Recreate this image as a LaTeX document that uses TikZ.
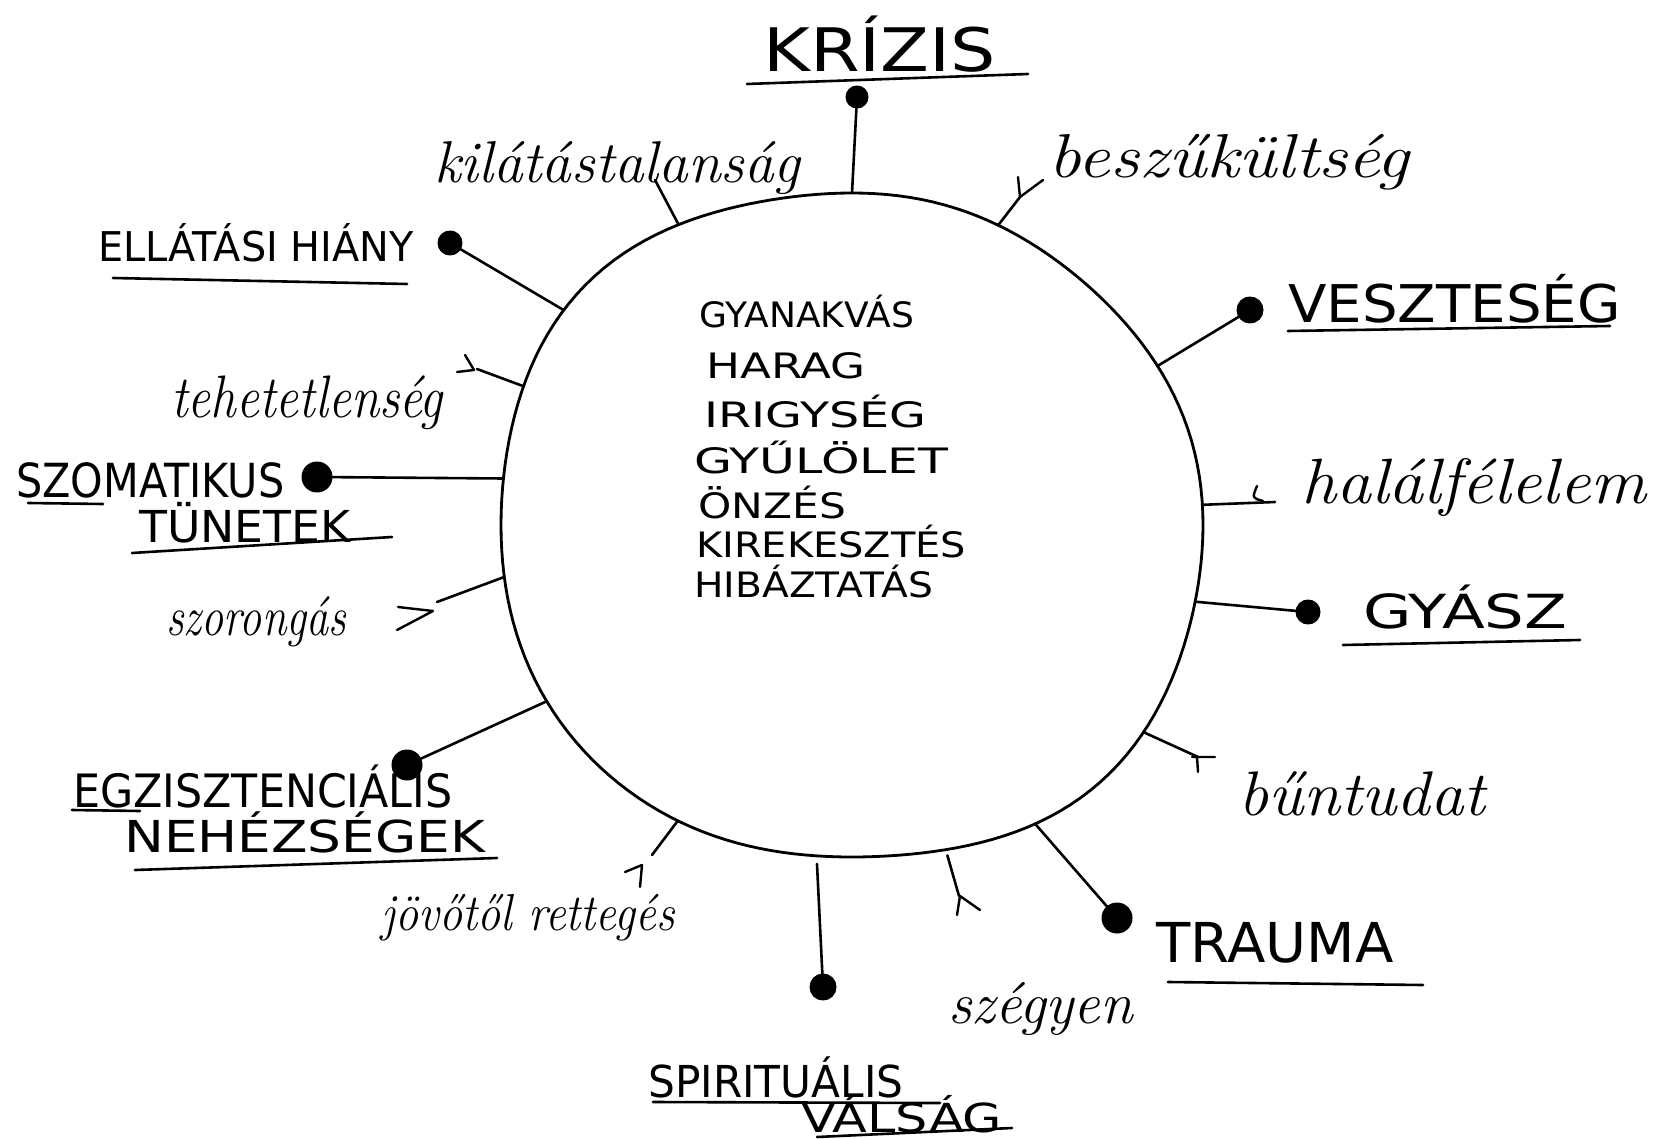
\documentclass[tikz,border=0pt]{standalone}
\usepackage{fontspec}
\newfontfamily\capf{DejaVu Sans}
\newcommand{\hw}[3]{\fontsize{#1}{#1}\selectfont\scalebox{#2}[1]{#3}}
\begin{document}
\begin{tikzpicture}[x=1pt,y=-1pt, line width=2.6pt, line cap=round, line join=round,
  declare function={R(\t)=100*11.6532/sqrt((3.32*cos(\t))*(3.32*cos(\t))+(3.51*sin(\t))*(3.51*sin(\t)))+sin(2*\t)*sin(2*\t)*(9+7.5*cos(2*\t-90)+6.5*cos(\t-135));},
  uline/.style={line width=2.6pt},
  caps/.style={anchor=base west, inner sep=0pt, font=\capf},
  cursive/.style={anchor=base west, inner sep=0pt, font=\itshape},
  blob/.style={circle, fill=black, draw=black, line width=1pt, inner sep=0pt, minimum size=#1},
  fletch/.style={line width=2.4pt}]
\useasboundingbox (0,0) rectangle (1675,1139);
\fill[white] (0,0) rectangle (1675,1139);

% the circle
\draw[line width=2.8pt] plot[domain=0:360, samples=181, variable=\t] ({852+R(\t)*cos(\t)},{525+R(\t)*sin(\t)}) -- cycle;

% centre words
\node[caps] (w1) at (698,328) {\hw{35}{1.03}{GYANAKVÁS}};
\node[caps] (w2) at (705,378) {\hw{35}{1.29}{HARAG}};
\node[caps] (w3) at (703,427) {\hw{35}{1.36}{IRIGYSÉG}};
\node[caps] (w4) at (693,473) {\hw{35}{1.40}{GYŰLÖLET}};
\node[caps] (w5) at (697,518) {\hw{35}{1.21}{ÖNZÉS}};
\node[caps] (w6) at (695,557) {\hw{35}{1.14}{KIREKESZTÉS}};
\node[caps] (w7) at (693,597) {\hw{35}{1.12}{HIBÁZTATÁS}};

% capital labels
\node[caps] (tK) at (762,72) {\hw{60}{1.19}{KRÍZIS}};
\draw[uline] (747,84) -- (1028,74);
\node[caps] (tEl) at (97,262) {\hw{41}{0.97}{ELLÁTÁSI HIÁNY}};
\draw[uline] (113,278) -- (407,284);
\node[caps] (tV) at (1287,323) {\hw{52}{1.08}{VESZTESÉG}};
\draw[uline] (1288,331) -- (1610,326);
\node[caps] (tSo) at (15,497) {\hw{47}{0.88}{SZOMATIKUS}};
\draw[uline] (28,503) -- (103,504);
\node[caps] (tSo2) at (138,542) {\hw{44}{1.04}{TÜNETEK}};
\draw[uline] (132,553) -- (392,537);
\node[caps] (tG) at (1362,628) {\hw{47}{1.33}{GYÁSZ}};
\draw[uline] (1343,645) -- (1580,640);
\node[caps] (tE) at (72,807) {\hw{46}{0.93}{EGZISZTENCIÁLIS}};
\draw[uline] (72,810) -- (140,811);
\node[caps] (tE2) at (123,852) {\hw{44}{1.21}{NEHÉZSÉGEK}};
\draw[uline] (135,870) -- (497,858);
\node[caps] (tTr) at (1155,962) {\hw{55}{1.02}{TRAUMA}};
\draw[uline] (1168,982) -- (1423,985);
\node[caps] (tSp) at (647,1097) {\hw{44}{0.96}{SPIRITUÁLIS}};
\draw[uline] (653,1102) -- (940,1103);
\node[caps] (tSp2) at (800,1132) {\hw{40}{1.27}{VÁLSÁG}};
\draw[uline] (817,1137) -- (1012,1128);

% lowercase labels
\node[cursive] (lKi) at (433,183) {\hw{59}{1}{kilátástalanság}};
\node[cursive] (lB) at (1047,178) {\hw{62}{1.17}{beszűkültség}};
\node[cursive] (lT) at (170,417) {\hw{60}{0.85}{tehetetlenség}};
\node[cursive] (lH) at (1300,503) {\hw{64}{1.09}{halálfélelem}};
\node[cursive] (lS) at (165,635) {\hw{56}{0.79}{szorongás}};
\node[cursive] (lBu) at (1237,815) {\hw{63}{1.06}{bűntudat}};
\node[cursive] (lJ) at (380,930) {\hw{52}{0.89}{jövőtől rettegés}};
\node[cursive] (lSz) at (947,1023) {\hw{59}{1}{szégyen}};

% points on the circle
\foreach \n/\a in {K/270, Ki/240, B/296, El/216.7, V/332.5, T/202.9, H/356.7, So/187.6, G/12.6, S/171.5, Bu/35.4, E/150, Tr/58.5, J/120.5}
  \coordinate (c\n) at ({852+R(\a)*cos(\a)},{525+R(\a)*sin(\a)});
\coordinate (cSp) at ({852+(R(95.9)+8)*cos(95.9)},{525+(R(95.9)+8)*sin(95.9)});
\coordinate (cSz) at ({852+(R(73.9)+6)*cos(73.9)},{525+(R(73.9)+6)*sin(73.9)});

% dotted spokes
\node[blob=22] (dK) at (857,97) {};   \draw (cK) -- (dK);
\node[blob=24] (dEl) at (450,243) {}; \draw (cEl) -- (dEl);
\node[blob=26] (dV) at (1250,310) {}; \draw (cV) -- (dV);
\node[blob=30] (dSo) at (317,477) {}; \draw (cSo) -- (dSo);
\node[blob=24] (dG) at (1308,612) {}; \draw (cG) -- (dG);
\node[blob=30] (dE) at (407,765) {};  \draw (cE) -- (dE);
\node[blob=30] (dTr) at (1117,918) {}; \draw (cTr) -- (dTr);
\node[blob=26] (dSp) at (823,987) {}; \draw (cSp) -- (dSp);

% plain / fletched spokes
\coordinate (eKi) at (655,180); \draw (cKi) -- (eKi);
\coordinate (eB) at (1020,197); \draw (cB) -- (eB);
\draw[fletch] (1018,177) -- (eB) -- (1043,180);
\coordinate (eT) at (477,369); \draw (cT) -- (eT);
\draw[fletch] (465,355) -- (474,370) -- (457,372);
\coordinate (eH) at (1275,502); \draw (cH) -- (eH);
\draw[fletch] (1257,486) .. controls (1252,498) .. (1263,501);
\coordinate (eS) at (437,602); \draw (cS) -- (eS);
\draw[fletch] (398,607) -- (433,611) -- (397,630);
\coordinate (eBu) at (1198,757); \draw (cBu) -- (eBu);
\draw[fletch] (1192,757) -- (1215,757) (1197,757) -- (1198,772);
\coordinate (eJ) at (652,855); \draw (cJ) -- (eJ);
\draw[fletch] (625,872) -- (642,865) -- (640,887);
\coordinate (eSz) at (959,896); \draw (cSz) -- (eSz);
\draw[fletch] (957,915) -- (960,896) -- (980,910);
\end{tikzpicture}
\end{document}
